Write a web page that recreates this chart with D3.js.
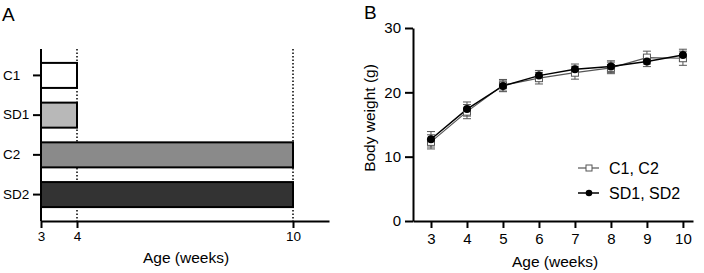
<!DOCTYPE html>
<html>
<head>
<meta charset="utf-8">
<script src="https://cdn.jsdelivr.net/npm/d3@7"></script>
<style>
  body { margin: 0; background: #fff; }
  svg { font-family: "Liberation Sans", Arial, sans-serif; }
</style>
</head>
<body>
<div id="chart"></div>
<script>
// Panel A data
const groups = ["C1", "SD1", "C2", "SD2"];
const endWeek = [4, 4, 10, 10];
const groupFill = ["#ffffff", "#b8b8b8", "#8a8a8a", "#333333"];
const aTicks = [3, 4, 10];

// Panel B data
const weeks = [3, 4, 5, 6, 7, 8, 9, 10];
const cWeight = [12.3, 17.0, 21.1, 22.2, 23.05, 23.8, 25.4, 25.3];
const cErr = [1.1, 1.1, 0.9, 0.9, 1.0, 0.9, 1.0, 1.1];
const sdWeight = [12.7, 17.4, 21.0, 22.6, 23.6, 24.0, 24.8, 25.8];
const sdErr = [1.2, 1.1, 0.9, 0.8, 0.8, 0.9, 0.8, 0.9];
const legendLabels = ["C1, C2", "SD1, SD2"];

const svg = d3.select("#chart").append("svg")
    .attr("width", 704)
    .attr("height", 273);

// ---------- Panel A ----------
const ax = d3.scaleLinear().domain([3, 11]).range([41, 329]);
const ay = d3.scaleBand().domain(groups).range([49, 221])
    .paddingInner(0.37).paddingOuter(0.35);

const gA = svg.append("g");

// dotted reference lines at week 4 and 10
gA.selectAll(".ref")
    .data([4, 10])
    .enter().append("line")
    .attr("x1", d => ax(d)).attr("x2", d => ax(d))
    .attr("y1", 49).attr("y2", 221)
    .attr("stroke", "#000")
    .attr("stroke-width", 1.5)
    .attr("stroke-dasharray", "1.5,2");

gA.selectAll(".bar")
    .data(groups)
    .enter().append("rect")
    .attr("x", ax(3))
    .attr("y", d => ay(d))
    .attr("width", (d, i) => ax(endWeek[i]) - ax(3))
    .attr("height", ay.bandwidth())
    .attr("fill", (d, i) => groupFill[i])
    .attr("stroke", "#000")
    .attr("stroke-width", 2);

const axA = gA.append("g")
    .attr("transform", "translate(0,221)")
    .call(d3.axisBottom(ax).tickValues(aTicks).tickSize(7).tickPadding(3).tickSizeOuter(0));
const ayA = gA.append("g")
    .attr("transform", "translate(41,0)")
    .call(d3.axisLeft(ay).tickSize(8).tickPadding(4).tickSizeOuter(0));
ayA.select(".domain").attr("d", "M0,49V221");
// group labels are left-aligned in the original
ayA.selectAll("text").attr("text-anchor", "start").attr("x", -38);

[axA, ayA].forEach(a => {
    a.selectAll("path, line").attr("stroke", "#000").attr("stroke-width", 2);
    a.selectAll("text").attr("fill", "#000").style("font-size", "13.5px");
});

gA.append("text")
    .attr("x", 186).attr("y", 263)
    .attr("text-anchor", "middle")
    .style("font-size", "15.5px")
    .text("Age (weeks)");

svg.append("text")
    .attr("x", 2).attr("y", 21)
    .style("font-size", "19px")
    .text("A");

// ---------- Panel B ----------
const bx = d3.scaleLinear().domain([2.5, 10.28]).range([413, 693]);
const by = d3.scaleLinear().domain([0, 30]).range([221, 28]);

const gB = svg.append("g");

const axB = gB.append("g")
    .attr("transform", "translate(0,221)")
    .call(d3.axisBottom(bx).tickValues(weeks).tickSize(7).tickPadding(5).tickSizeOuter(0));
const ayB = gB.append("g")
    .attr("transform", "translate(413,0)")
    .call(d3.axisLeft(by).tickValues([0, 10, 20, 30]).tickSize(8).tickPadding(4).tickSizeOuter(0));

[axB, ayB].forEach(a => {
    a.selectAll("path, line").attr("stroke", "#000").attr("stroke-width", 2);
    a.selectAll("text").attr("fill", "#000").style("font-size", "15px");
});

const series = [
    {vals: cWeight, err: cErr, color: "#555", width: 1.2, marker: "square"},
    {vals: sdWeight, err: sdErr, color: "#000", width: 1.5, marker: "circle"}
];

const line = d3.line().x((d, i) => bx(weeks[i])).y(d => by(d));

series.forEach(s => {
    const g = gB.append("g");
    // error bars
    const eb = g.selectAll(".err")
        .data(s.vals)
        .enter().append("g");
    eb.append("line")
        .attr("x1", (d, i) => bx(weeks[i])).attr("x2", (d, i) => bx(weeks[i]))
        .attr("y1", (d, i) => by(d + s.err[i])).attr("y2", (d, i) => by(d - s.err[i]));
    eb.append("line")
        .attr("x1", (d, i) => bx(weeks[i]) - 4).attr("x2", (d, i) => bx(weeks[i]) + 4)
        .attr("y1", (d, i) => by(d + s.err[i])).attr("y2", (d, i) => by(d + s.err[i]));
    eb.append("line")
        .attr("x1", (d, i) => bx(weeks[i]) - 4).attr("x2", (d, i) => bx(weeks[i]) + 4)
        .attr("y1", (d, i) => by(d - s.err[i])).attr("y2", (d, i) => by(d - s.err[i]));
    eb.selectAll("line").attr("stroke", "#555").attr("stroke-width", 1);

    g.append("path")
        .datum(s.vals)
        .attr("d", line)
        .attr("fill", "none")
        .attr("stroke", s.color)
        .attr("stroke-width", s.width);
});

// markers
gB.selectAll(".sq")
    .data(cWeight)
    .enter().append("rect")
    .attr("x", (d, i) => bx(weeks[i]) - 3.5)
    .attr("y", d => by(d) - 3.5)
    .attr("width", 7).attr("height", 7)
    .attr("fill", "#fff")
    .attr("stroke", "#555")
    .attr("stroke-width", 1);

gB.selectAll(".dot")
    .data(sdWeight)
    .enter().append("circle")
    .attr("cx", (d, i) => bx(weeks[i]))
    .attr("cy", d => by(d))
    .attr("r", 4)
    .attr("fill", "#000");

// legend
const leg = gB.selectAll(".leg")
    .data(legendLabels)
    .enter().append("g")
    .attr("transform", (d, i) => `translate(578,${168 + i * 25})`);
leg.append("line")
    .attr("x1", 0).attr("x2", 21)
    .attr("stroke", (d, i) => series[i].color)
    .attr("stroke-width", (d, i) => series[i].width);
leg.filter((d, i) => i === 0).append("rect")
    .attr("x", 8).attr("y", -3).attr("width", 6).attr("height", 6)
    .attr("fill", "#fff").attr("stroke", "#555");
leg.filter((d, i) => i === 1).append("circle")
    .attr("cx", 11).attr("r", 3.3).attr("fill", "#000");
leg.append("text")
    .attr("x", 31).attr("dy", "0.35em")
    .style("font-size", "16px")
    .text(d => d);

gB.append("text")
    .attr("x", 555).attr("y", 267)
    .attr("text-anchor", "middle")
    .style("font-size", "15.5px")
    .text("Age (weeks)");

gB.append("text")
    .attr("transform", "translate(375,118) rotate(-90)")
    .attr("text-anchor", "middle")
    .style("font-size", "15.5px")
    .text("Body weight (g)");

svg.append("text")
    .attr("x", 364).attr("y", 19)
    .style("font-size", "19px")
    .text("B");
</script>
</body>
</html>
